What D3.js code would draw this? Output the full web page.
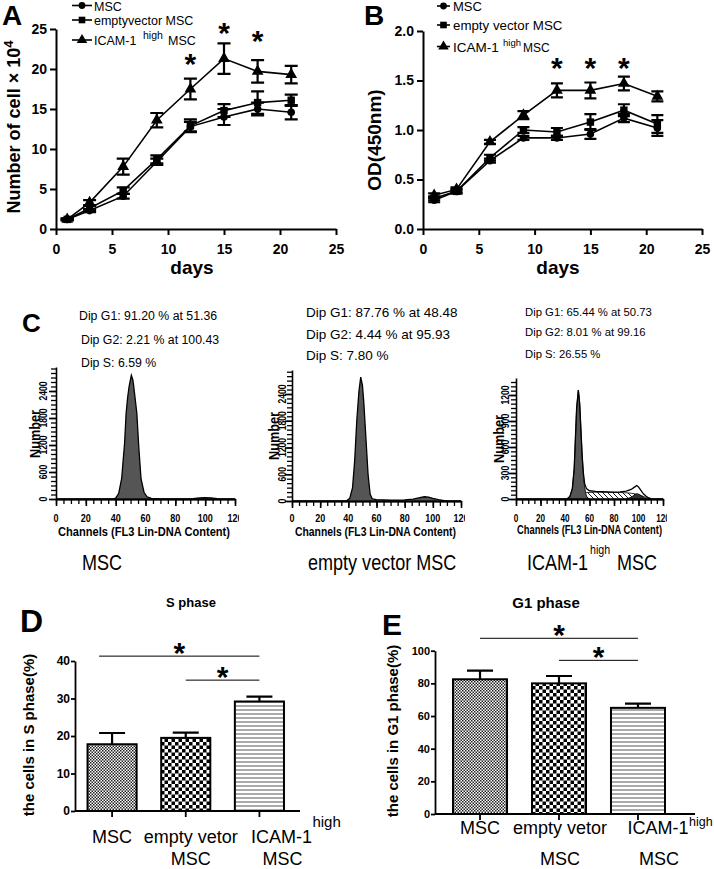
<!DOCTYPE html>
<html><head><meta charset="utf-8">
<script src="https://cdn.jsdelivr.net/npm/d3@7"></script>
<style>body{margin:0;background:#fff}svg{display:block}</style>
</head><body><svg id="c" width="714" height="869"></svg>
<script>
// ================= DATA =================
const days = [1, 3, 6, 9, 12, 15, 18, 21];
const dayTicks = [0, 5, 10, 15, 20, 25];
const cellTicks = [0, 5, 10, 15, 20, 25];
const odTicks = [0, 0.5, 1.0, 1.5, 2.0];
const cellMSC   = [1.2, 2.3, 4.1, 8.4, 12.8, 14.0, 15.0, 14.6];
const cellEmpty = [1.2, 2.6, 4.8, 8.7, 12.9, 14.8, 15.8, 16.1];
const cellICAM  = [1.2, 3.3, 7.8, 13.6, 17.5, 21.3, 19.7, 19.3];
const cellErrMSC   = [0.1, 0.2, 0.3, 0.4, 0.6, 1.0, 0.8, 0.9];
const cellErrEmpty = [0.1, 0.3, 0.4, 0.5, 0.8, 0.8, 1.4, 0.7];
const cellErrICAM  = [0.1, 0.3, 1.0, 0.9, 1.3, 1.9, 1.4, 1.1];
const odMSC   = [0.29, 0.38, 0.69, 0.92, 0.92, 0.96, 1.12, 1.02];
const odEmpty = [0.31, 0.38, 0.72, 1.00, 0.98, 1.08, 1.20, 1.06];
const odICAM  = [0.34, 0.40, 0.88, 1.15, 1.40, 1.40, 1.47, 1.34];
const odErrMSC   = [0.02, 0.02, 0.02, 0.02, 0.02, 0.05, 0.04, 0.08];
const odErrEmpty = [0.02, 0.02, 0.03, 0.03, 0.04, 0.08, 0.06, 0.09];
const odErrICAM  = [0.02, 0.02, 0.02, 0.04, 0.07, 0.08, 0.07, 0.05];
const starDays = [12, 15, 18];
const starLevelA = [21.4, 25.3, 24.3];
const starLevelB = [1.69, 1.69, 1.69];
const legendA = ["MSC", "emptyvector MSC", "ICAM-1"];
const legendB = ["MSC", "empty vector MSC", "ICAM-1"];

// flow cytometry histograms: [channel, count]
const histMSC = [[0,0],[38,0],[40,20],[42,120],[44,450],[46,1250],[47,1900],[48,2250],[49,2500],[50.5,2750],[51.5,2650],[52,2530],[53,2250],[54.2,1900],[55.5,1150],[57,450],[59,150],[61,50],[64,15],[70,5],[85,5],[92,10],[96,25],[100,30],[104,25],[108,10],[112,0],[120,0]];
const histEmpty = [[0,0],[36,0],[39,10],[41,60],[43,300],[44.5,900],[46,1800],[47.5,2450],[48.8,2780],[50,2600],[51,2200],[52.5,1400],[54,600],[55.5,150],[57,50],[60,30],[70,20],[80,25],[86,40],[90,70],[94,95],[97,85],[100,60],[104,30],[108,10],[112,0],[120,0]];
const histICAM = [[0,0],[38,0],[42,5],[44,30],[46,120],[47.5,350],[48.5,700],[49.5,1050],[50.9,1257],[52,1100],[53,800],[54,500],[55,300],[56,180],[57.5,120],[60,95],[65,88],[70,85],[75,82],[80,80],[85,82],[90,90],[94,110],[97,140],[98.5,155],[100,140],[102,100],[104,60],[106,35],[108,15],[111,0],[120,0]];
const g1FitICAM = [[42,0],[44,30],[46,120],[47.5,350],[48.5,700],[49.5,1050],[50.9,1257],[52,1100],[53,800],[54,500],[55,280],[56,140],[57,60],[58,20],[60,0]];
const sFitICAM = [[46,0],[50,30],[54,60],[58,75],[65,78],[75,76],[85,74],[92,70],[97,60],[101,45],[105,25],[109,0]];
const g2FitICAM = [[90,0],[94,20],[97,50],[99,62],[101,50],[104,20],[107,0]];
const histXTicks = [0, 20, 40, 60, 80, 100, 120];
const histYTicksBig = [0, 600, 1200, 1800, 2400];
const histYTicksSmall = [0, 300, 600, 900, 1200];
const dipMSC = ["Dip G1: 91.20 % at 51.36", "Dip G2: 2.21 % at 100.43", "Dip S: 6.59 %"];
const dipEmpty = ["Dip G1: 87.76 % at 48.48", "Dip G2: 4.44 % at 95.93", "Dip S: 7.80 %"];
const dipICAM = ["Dip G1: 65.44 % at 50.73", "Dip G2: 8.01 % at 99.16", "Dip S: 26.55 %"];

// bar charts
const barGroups = ["MSC", "empty vetor", "ICAM-1"];
const sPhase = [17.8, 19.5, 29.2];
const sPhaseErr = [3.0, 1.4, 1.3];
const g1Phase = [82.5, 80.0, 65.0];
const g1PhaseErr = [5.3, 4.5, 2.6];
const sTicks = [0, 10, 20, 30, 40];
const g1Ticks = [0, 20, 40, 60, 80, 100];
const sSig = [[0, 2, 41.3], [1, 2, 34.9]];
const g1Sig = [[0, 2, 107.6], [1, 2, 94.1]];

// ================= DRAW =================
const FONT = '"Liberation Sans", Arial, Helvetica, sans-serif';
const svg = d3.select("#c");

function txt(p, x, y, s, o = {}) {
  let tr = `translate(${x},${y})`;
  if (o.rot) tr += ` rotate(${o.rot})`;
  if (o.sx) tr += ` scale(${o.sx},1)`;
  const t = p.append("text").attr("transform", tr)
    .attr("font-family", FONT).attr("font-size", o.size || 12)
    .attr("font-weight", o.bold ? "bold" : "normal")
    .attr("text-anchor", o.anchor || "start").attr("fill", "#000").text(s);
  if (o.len) t.attr("textLength", o.len).attr("lengthAdjust", "spacingAndGlyphs");
  return t;
}
function styleAxis(g, size, bold, sw) {
  g.attr("font-family", null).attr("font-size", null);
  g.selectAll("text").attr("font-family", FONT).attr("font-size", size)
    .attr("font-weight", bold ? "bold" : "normal").attr("fill", "#000");
  g.selectAll("line,path").attr("stroke", "#000").attr("stroke-width", sw || 2);
}

// patterns
const defs = svg.append("defs");
const pDots = defs.append("pattern").attr("id", "pDots").attr("patternUnits", "userSpaceOnUse").attr("width", 3).attr("height", 3);
pDots.append("rect").attr("width", 3).attr("height", 3).attr("fill", "#fff");
pDots.append("rect").attr("width", 1.5).attr("height", 1.5).attr("fill", "#222");
pDots.append("rect").attr("x", 1.5).attr("y", 1.5).attr("width", 1.5).attr("height", 1.5).attr("fill", "#222");
const pChk = defs.append("pattern").attr("id", "pChk").attr("patternUnits", "userSpaceOnUse").attr("width", 7).attr("height", 7);
pChk.append("rect").attr("width", 7).attr("height", 7).attr("fill", "#fff");
pChk.append("rect").attr("width", 3.5).attr("height", 3.5).attr("fill", "#000");
pChk.append("rect").attr("x", 3.5).attr("y", 3.5).attr("width", 3.5).attr("height", 3.5).attr("fill", "#000");
const pLin = defs.append("pattern").attr("id", "pLin").attr("patternUnits", "userSpaceOnUse").attr("width", 4).attr("height", 4);
pLin.append("rect").attr("width", 4).attr("height", 4).attr("fill", "#fff");
pLin.append("rect").attr("y", 1.5).attr("width", 4).attr("height", 1).attr("fill", "#555");
const pHat = defs.append("pattern").attr("id", "pHat").attr("patternUnits", "userSpaceOnUse").attr("width", 5).attr("height", 5);
pHat.append("rect").attr("width", 5).attr("height", 5).attr("fill", "#fff");
pHat.append("path").attr("d", "M0,0L5,5M-1,4L1,6M4,-1L6,1").attr("stroke", "#000").attr("stroke-width", 0.9);

// ---------- line panels A & B ----------
function linePanel(c) {
  const g = svg.append("g");
  const x = d3.scaleLinear().domain([0, 25]).range(c.xr);
  const y = d3.scaleLinear().domain(c.yd).range(c.yr);
  const ya = g.append("g").attr("transform", `translate(${c.xr[0]},0)`)
    .call(d3.axisLeft(y).tickValues(c.yticks).tickFormat(c.yfmt).tickSize(6).tickSizeOuter(0).tickPadding(3));
  styleAxis(ya, 14, true);
  const xa = g.append("g").attr("transform", `translate(0,${c.yr[0]})`)
    .call(d3.axisBottom(x).tickValues(dayTicks).tickFormat(d3.format("d")).tickSize(6).tickSizeOuter(0).tickPadding(9));
  styleAxis(xa, 14, true);
  xa.selectAll("text").attr("dy", "0.71em");

  const series = c.series;
  const line = d3.line().x(d => x(d.d)).y(d => y(d.v));
  series.forEach(s => {
    const pts = days.map((d, i) => ({ d, v: s.v[i], e: s.e[i] }));
    g.append("path").attr("d", line(pts)).attr("fill", "none").attr("stroke", "#000").attr("stroke-width", 1.6);
    pts.forEach(p => {
      const cx = x(p.d), lo = y(p.v - p.e), hi = y(p.v + p.e);
      g.append("path").attr("d", `M${cx},${lo}V${hi}M${cx - c.cap},${hi}H${cx + c.cap}M${cx - c.cap},${lo}H${cx + c.cap}`)
        .attr("stroke", "#000").attr("stroke-width", 2.2).attr("fill", "none");
    });
    pts.forEach(p => {
      g.append("path").attr("transform", `translate(${x(p.d)},${y(p.v)})`)
        .attr("d", d3.symbol().type(s.sym).size(s.size)()).attr("fill", "#000");
    });
  });
  starDays.forEach((d, i) => txt(g, x(d), y(c.stars[i]) + 16, "*", { size: 30, bold: true, anchor: "middle" }));
  txt(g, c.daysX, 274, "days", { size: 19, bold: true, anchor: "middle" });
  series.forEach((s, i) => {
    const ly = c.legY[i];
    g.append("line").attr("x1", c.legX[0]).attr("x2", c.legX[1]).attr("y1", ly).attr("y2", ly).attr("stroke", "#000").attr("stroke-width", 1.6);
    g.append("path").attr("transform", `translate(${(c.legX[0] + c.legX[1]) / 2},${ly})`)
      .attr("d", d3.symbol().type(s.sym).size(s.size * 0.8)()).attr("fill", "#000");
  });
  return { g, x, y };
}

const A = linePanel({
  xr: [56, 336], yd: [0, 25], yr: [229, 29], yticks: cellTicks, yfmt: d3.format("d"), cap: 6.5,
  series: [
    { v: cellMSC, e: cellErrMSC, sym: d3.symbolCircle, size: 45 },
    { v: cellEmpty, e: cellErrEmpty, sym: d3.symbolSquare, size: 55 },
    { v: cellICAM, e: cellErrICAM, sym: d3.symbolTriangle, size: 60 }
  ],
  stars: starLevelA, daysX: 192, legX: [72, 92], legY: [5.5, 20, 40]
});
txt(A.g, 94, 10.5, legendA[0], { size: 12.5 });
txt(A.g, 94, 24.5, legendA[1], { size: 12.5 });
txt(A.g, 94, 44.5, legendA[2], { size: 12.5 });
txt(A.g, 143, 39, "high", { size: 10.5 });
txt(A.g, 168, 44.5, "MSC", { size: 12.5 });
const tA = txt(A.g, 20, 127, "Number of cell \u00d7 10", { size: 18, bold: true, anchor: "middle", rot: -90 });
tA.append("tspan").attr("dy", -7).attr("font-size", 13).text("4");
txt(A.g, 2, 25, "A", { size: 28, bold: true });

const B = linePanel({
  xr: [423, 702], yd: [0, 2], yr: [229, 31], yticks: odTicks, yfmt: d3.format(".1f"), cap: 6,
  series: [
    { v: odMSC, e: odErrMSC, sym: d3.symbolCircle, size: 45 },
    { v: odEmpty, e: odErrEmpty, sym: d3.symbolSquare, size: 55 },
    { v: odICAM, e: odErrICAM, sym: d3.symbolTriangle, size: 60 }
  ],
  stars: starLevelB, daysX: 558, legX: [437, 450], legY: [6, 25, 46.5]
});
txt(B.g, 453, 10.5, legendB[0], { size: 13 });
txt(B.g, 453, 30, legendB[1], { size: 13.3 });
txt(B.g, 453, 51.5, legendB[2], { size: 13.5 });
txt(B.g, 503, 46, "high", { size: 9.5 });
txt(B.g, 523, 51.5, "MSC", { size: 12 });
txt(B.g, 381, 140, "OD(450nm)", { size: 19, bold: true, anchor: "middle", rot: -90 });
txt(B.g, 364, 25, "B", { size: 28, bold: true });

// ---------- histograms C ----------
function histPanel(h) {
  const g = svg.append("g");
  const x = d3.scaleLinear().domain([0, 120]).range(h.xr);
  const y = d3.scaleLinear().domain([0, h.refVal]).range([h.y0, h.yRef]);
  const yTop = y.invert(h.ytop);
  const clipId = "clip" + h.id;
  g.append("clipPath").attr("id", clipId).append("rect").attr("x", 0).attr("y", 0).attr("width", h.xr[1] + 4).attr("height", 869);
  const area = d3.area().x(d => x(d[0])).y0(y(0)).y1(d => y(d[1]));
  const lineG = d3.line().x(d => x(d[0])).y(d => y(d[1]));
  if (h.sFit) g.append("path").attr("d", area(h.sFit)).attr("fill", "url(#pHat)").attr("stroke", "#000").attr("stroke-width", 0.8);
  if (h.g2Fit) g.append("path").attr("d", area(h.g2Fit)).attr("fill", "#333").attr("stroke", "#000").attr("stroke-width", 0.8);
  if (h.g1Fit) g.append("path").attr("d", area(h.g1Fit)).attr("fill", "#555").attr("stroke", "#000").attr("stroke-width", 0.8);
  if (h.filled) g.append("path").attr("d", area(h.data)).attr("fill", "#555").attr("stroke", "none");
  g.append("path").attr("d", lineG(h.data)).attr("fill", "none").attr("stroke", "#000").attr("stroke-width", 1.3);

  const yMinor = g.append("g").attr("transform", `translate(${h.xr[0]},0)`)
    .call(d3.axisLeft(y).tickValues(d3.range(0, yTop, h.yMinorStep)).tickSize(5).tickFormat("").tickSizeOuter(0));
  styleAxis(yMinor, 10, true, 1.3);
  yMinor.select(".domain").remove();
  const yMajor = g.append("g").attr("transform", `translate(${h.xr[0]},0)`)
    .call(d3.axisLeft(y.copy().domain([0, yTop]).range([h.y0, h.ytop])).tickValues(h.yticks).tickSize(7).tickFormat("").tickSizeOuter(0));
  styleAxis(yMajor, 10, true, 1.6);
  h.yticks.forEach(v => txt(g, h.yLabX, y(v), String(v), { size: 10.5, bold: true, anchor: "middle", rot: -90, sx: 0.82 }));
  txt(g, h.numX, h.numY, "Number", { size: 15, bold: true, anchor: "middle", rot: -90, sx: 0.85 });

  const xMinor = g.append("g").attr("transform", `translate(0,${h.y0})`)
    .call(d3.axisBottom(x).tickValues(d3.range(0, 121, 5)).tickSize(5).tickFormat("").tickSizeOuter(0));
  styleAxis(xMinor, 10, true, 1.3);
  const xMajor = g.append("g").attr("transform", `translate(0,${h.y0})`)
    .call(d3.axisBottom(x).tickValues(histXTicks).tickSize(7).tickFormat("").tickSizeOuter(0));
  styleAxis(xMajor, 10, true, 1.6);
  xMajor.select(".domain").attr("stroke-width", 2);
  const lab = g.append("g").attr("clip-path", `url(#${clipId})`);
  histXTicks.forEach(v => txt(lab, x(v), 522, String(v), { size: h.tickSize, bold: true, anchor: "middle", sx: 0.82 }));
  txt(g, h.chX[0], h.chY, "Channels (FL3 Lin-DNA Content)", { size: 12.5, bold: true, len: h.chX[1] - h.chX[0] });

  h.dip.forEach((s, i) => txt(g, h.dipX[i], h.dipY[i], s, { size: h.dipSize }));
  return g;
}

histPanel({ id: 1, xr: [56, 235], y0: 499, refVal: 2400, yRef: 391, ytop: 367, yMinorStep: 100, yticks: histYTicksBig,
  yLabX: 47, numX: 40, numY: 434, tickSize: 11, chX: [58, 230], chY: 536, data: histMSC, filled: true,
  dip: dipMSC, dipX: [79, 81, 81], dipY: [319.5, 343.5, 366.5], dipSize: 12.3 });
histPanel({ id: 2, xr: [292, 461], y0: 501, refVal: 2400, yRef: 394, ytop: 370, yMinorStep: 100, yticks: histYTicksBig,
  yLabX: 286, numX: 279, numY: 436, tickSize: 11, chX: [295, 456], chY: 536, data: histEmpty, filled: true,
  dip: dipEmpty, dipX: [306, 306, 306], dipY: [317, 339, 360], dipSize: 13.5 });
histPanel({ id: 3, xr: [516, 663], y0: 499, refVal: 1200, yRef: 395, ytop: 378, yMinorStep: 50, yticks: histYTicksSmall,
  yLabX: 509, numX: 504, numY: 439, tickSize: 10, chX: [517, 662], chY: 534, data: histICAM, filled: false,
  g1Fit: g1FitICAM, sFit: sFitICAM, g2Fit: g2FitICAM,
  dip: dipICAM, dipX: [525, 525, 525], dipY: [316, 336, 358], dipSize: 11.3 });

const gC = svg.append("g");
txt(gC, 22, 332, "C", { size: 26, bold: true });
txt(gC, 82, 570, "MSC", { size: 22, sx: 0.82 });
txt(gC, 308, 570, "empty vector MSC", { size: 22, sx: 0.82 });
txt(gC, 527, 570, "ICAM-1", { size: 22, sx: 0.82 });
txt(gC, 590, 554, "high", { size: 13, sx: 0.82 });
txt(gC, 617, 570, "MSC", { size: 22, sx: 0.82 });

// ---------- bar panels D & E ----------
const patterns = ["url(#pDots)", "url(#pChk)", "url(#pLin)"];
function barPanel(c) {
  const g = svg.append("g");
  const x = d3.scaleBand().domain(barGroups).range(c.xr).paddingInner(c.pi).paddingOuter(c.po);
  const y = d3.scaleLinear().domain([0, c.ymax]).range(c.yr);
  barGroups.forEach((k, i) => {
    const bx = x(k), bw = x.bandwidth(), cx = bx + bw / 2;
    const top = y(c.vals[i]), et = y(c.vals[i] + c.errs[i]);
    g.append("path").attr("d", `M${cx},${top}V${et}M${cx - 13},${et}H${cx + 13}`).attr("stroke", "#000").attr("stroke-width", 2.2);
    g.append("rect").attr("x", bx).attr("y", top).attr("width", bw).attr("height", y(0) - top)
      .attr("fill", patterns[i]).attr("stroke", "#000").attr("stroke-width", 2);
  });
  const ya = g.append("g").attr("transform", `translate(${c.xr[0]},0)`)
    .call(d3.axisLeft(y).tickValues(c.ticks).tickFormat(d3.format("d")).tickSize(4).tickPadding(1).tickSizeOuter(0));
  styleAxis(ya, c.tickFont, true, 1.8);
  const xa = g.append("g").attr("transform", `translate(0,${c.yr[0]})`)
    .call(d3.axisBottom(x).tickSize(6).tickFormat("").tickSizeOuter(0));
  styleAxis(xa, 10, true, 1.8);
  xa.select(".domain").attr("d", `M${c.xr[0]},0H${c.axEnd}`);
  c.sig.forEach(s => {
    const x1 = x(barGroups[s[0]]) + x.bandwidth() / 2 + (s[0] === 0 ? c.sigOff : 0);
    const x2 = x(barGroups[s[1]]) + x.bandwidth() / 2;
    const yy = y(s[2]);
    g.append("line").attr("x1", x1).attr("x2", x2).attr("y1", yy).attr("y2", yy).attr("stroke", "#000").attr("stroke-width", 1);
    txt(g, (x1 + x2) / 2, yy + 7, "*", { size: 30, bold: true, anchor: "middle" });
  });
  const cx = k => x(k) + x.bandwidth() / 2;
  txt(g, cx("MSC"), c.lab1, "MSC", { size: 18, anchor: "middle" });
  txt(g, cx("empty vetor") + c.empOff, c.lab1, "empty vetor", { size: 18, anchor: "middle" });
  txt(g, cx("empty vetor") + c.empOff, c.lab2, "MSC", { size: 18, anchor: "middle" });
  txt(g, cx("ICAM-1") + c.icamOff, c.lab1, "ICAM-1", { size: 18, anchor: "middle" });
  txt(g, cx("ICAM-1") + c.icamOff + 31, c.highY, "high", { size: c.highSize });
  txt(g, cx("ICAM-1") + c.icamOff + 1, c.lab2, "MSC", { size: 18, anchor: "middle" });
  return g;
}

const D = barPanel({ xr: [75, 296.5], pi: 1 / 3, po: 0.17, ymax: 40, yr: [811, 661], vals: sPhase, errs: sPhaseErr,
  ticks: sTicks, tickFont: 12, axEnd: 300, sig: sSig, sigOff: -13, lab1: 843, lab2: 865, highY: 827, icamOff: 22, empOff: 5, highSize: 15 });
txt(D, 34, 735, "the cells in S phase(%)", { size: 15, bold: true, anchor: "middle", rot: -90 });
txt(D, 191, 607, "S phase", { size: 13, bold: true, anchor: "middle" });
txt(D, 20, 632, "D", { size: 32, bold: true });

const E = barPanel({ xr: [435, 683], pi: 0.316, po: 0.228, ymax: 100, yr: [814, 650.7], vals: g1Phase, errs: g1PhaseErr,
  ticks: g1Ticks, tickFont: 11, axEnd: 695, sig: g1Sig, sigOff: 0, lab1: 834, lab2: 865, highY: 826, icamOff: 20, empOff: 1, highSize: 12.5 });
txt(E, 398, 731, "the cells in G1 phase(%)", { size: 15, bold: true, anchor: "middle", rot: -90 });
txt(E, 546, 608, "G1 phase", { size: 15, bold: true, anchor: "middle" });
txt(E, 382, 635, "E", { size: 30, bold: true });
</script></body></html>
